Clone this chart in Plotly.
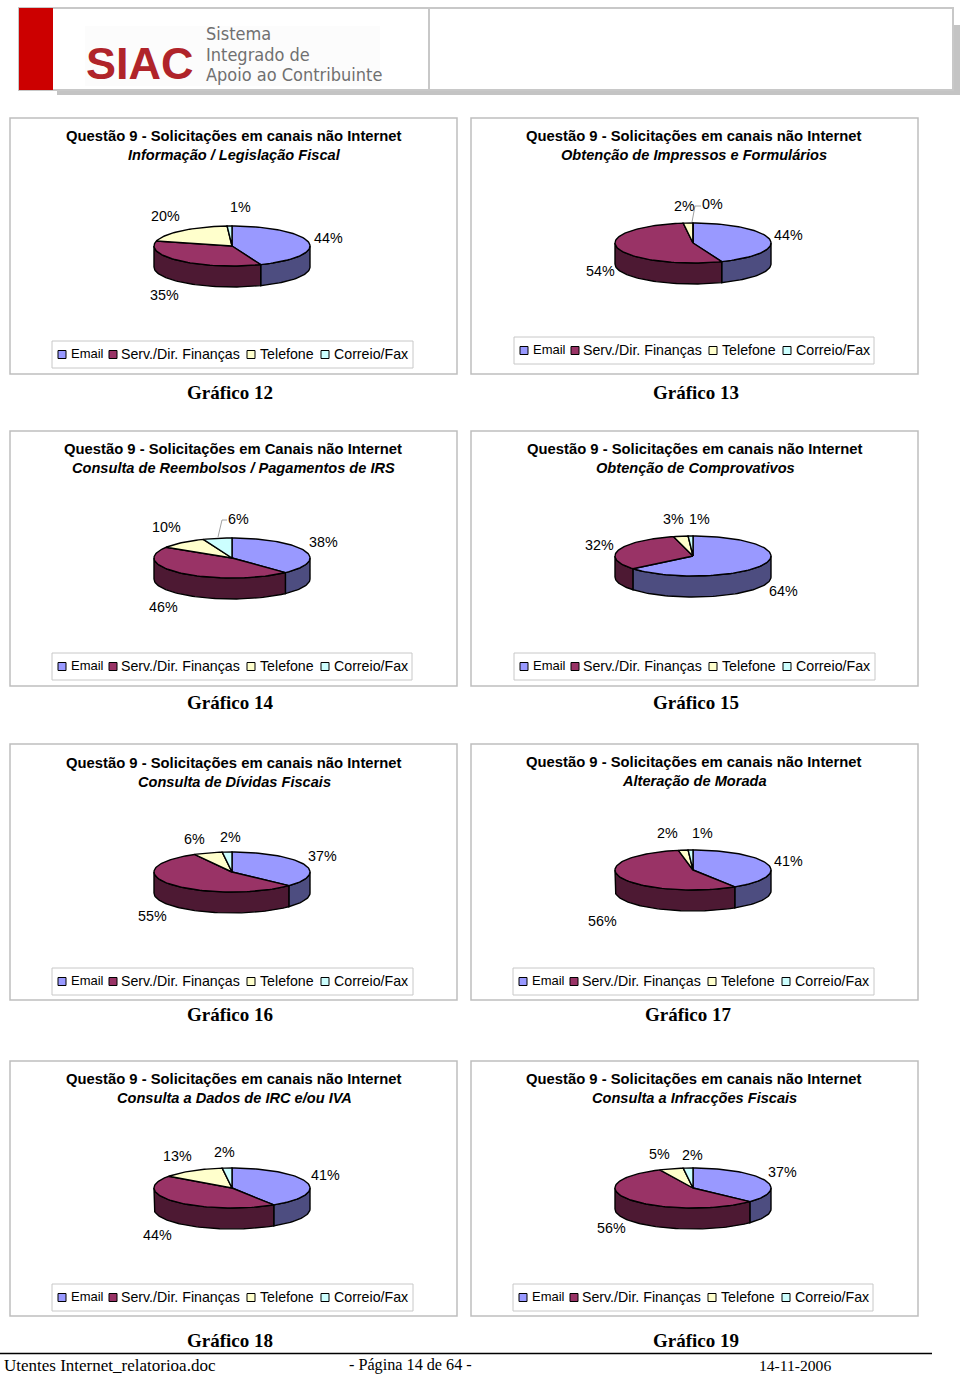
import math
import plotly.graph_objects as go

# ---------- data ----------
channels = ["Email", "Serv./Dir. Finanças", "Telefone", "Correio/Fax"]
g12 = [44, 35, 20, 1]
g13 = [44, 54, 2, 0]
g14 = [38, 46, 10, 6]
g15 = [64, 32, 3, 1]
g16 = [37, 55, 6, 2]
g17 = [41, 56, 2, 1]
g18 = [41, 44, 13, 2]
g19 = [37, 56, 5, 2]
series = [g12, g13, g14, g15, g16, g17, g18, g19]
numbers = [12, 13, 14, 15, 16, 17, 18, 19]
main_titles = ["Questão 9 - Solicitações em canais não Internet"] * 8
main_titles[2] = "Questão 9 - Solicitações em Canais não Internet"
sub_titles = ["Informação / Legislação Fiscal", "Obtenção de Impressos e Formulários",
              "Consulta de Reembolsos / Pagamentos de IRS", "Obtenção de Comprovativos",
              "Consulta de Dívidas Fiscais", "Alteração de Morada",
              "Consulta a Dados de IRC e/ou IVA", "Consulta a Infracções Fiscais"]

# ---------- layout / style (page pixels) ----------
top_fill = ["#9999FF", "#993366", "#FFFFCC", "#CCFFFF"]
side_fill = ["#4D4D80", "#4D1933", "#808066", "#668080"]
GREY = "#BEBEBE"
frames = [(10, 118, 457, 374), (471, 118, 918, 374), (10, 431, 457, 686), (471, 431, 918, 686),
          (10, 744, 457, 1000), (471, 744, 918, 1000), (10, 1061, 457, 1316), (471, 1061, 918, 1316)]
legend_boxes = [(52, 341, 413, 368), (514, 337, 874, 364), (52, 653, 412, 680), (514, 653, 875, 680),
                (52, 968, 413, 995), (513, 968, 874, 995), (52, 1284, 413, 1311), (513, 1284, 873, 1311)]
centres = [(232, 246), (693, 243), (232, 558), (693, 556), (232, 872), (693, 870), (232, 1188), (693, 1188)]
title_pos = [(234, 136, 155), (694, 136, 155), (233, 449, 468), (695, 449, 468),
             (234, 763, 782), (694, 762, 781), (234, 1079, 1098), (694, 1079, 1098)]
caption_pos = [(230, 392), (696, 392), (230, 702), (696, 702), (230, 1014), (688, 1014), (230, 1340), (696, 1340)]
label_pos = [
    [(328, 238), (164, 295), (165, 216), (240, 207)],
    [(788, 235), (600, 271), (684, 206), (712, 204)],
    [(323, 542), (163, 607), (166, 527), (238, 519)],
    [(783, 591), (599, 545), (673, 519), (699, 519)],
    [(322, 856), (152, 916), (194, 839), (230, 837)],
    [(788, 861), (602, 921), (667, 833), (702, 833)],
    [(325, 1175), (157, 1235), (177, 1156), (224, 1152)],
    [(782, 1172), (611, 1228), (659, 1154), (692, 1155)],
]
key_offsets = [10, 61, 199, 273]
text_offsets = [18, 68, 207, 281]
text_sizes = [13, 14.2, 14.2, 14.2]
RX, RY, DEPTH = 78, 20, 21
SANS = "Liberation Sans"
SERIF = "Liberation Serif"

fig = go.Figure()
shapes, notes = [], []


def note(x, y, text, size, family=SANS, color="#000000", anchor="center"):
    notes.append(dict(x=x, y=y, text=text, showarrow=False, xanchor=anchor, yanchor="middle",
                      font=dict(size=size, family=family, color=color), borderpad=0))


def rect(x0, y0, x1, y1, line=None, fill=None, width=1.5):
    shapes.append(dict(type="rect", x0=x0, y0=y0, x1=x1, y1=y1, layer="below",
                       line=dict(color=line or "rgba(0,0,0,0)", width=width if line else 0),
                       fillcolor=fill or "rgba(0,0,0,0)"))


def hline(x0, y0, x1, y1, color, width=1):
    shapes.append(dict(type="line", x0=x0, y0=y0, x1=x1, y1=y1, line=dict(color=color, width=width)))


def pt(cx, cy, a, dy=0):
    r = math.radians(a)
    return cx + RX * math.sin(r), cy - RY * math.cos(r) + dy


def arc(cx, cy, a0, a1, dy=0):
    n = max(2, int(abs(a1 - a0) / 2) + 2)
    return [pt(cx, cy, a0 + (a1 - a0) * i / (n - 1), dy) for i in range(n)]


def poly(points, fill):
    fig.add_trace(go.Scatter(x=[p[0] for p in points], y=[p[1] for p in points], mode="lines",
                             fill="toself", fillcolor=fill, line=dict(color="#000000", width=1.4),
                             hoverinfo="skip", showlegend=False))


# header
rect(57, 25, 960, 95, fill="#C4C4C4")
rect(19, 8, 953, 90, line="#C8C8C8", fill="#FFFFFF", width=2)
rect(19, 8, 53, 90, fill="#CC0000")
rect(85, 26, 380, 86, fill="#FCFCFC")
hline(429, 8, 429, 90, "#C8C8C8", 2)
note(140, 63, "<b>SIAC</b>", 45, SANS, "#B0242A")
note(205, 33, "Sistema", 18, "DejaVu Sans Condensed", "#707070", "left")
note(205, 54, "Integrado de", 18, "DejaVu Sans Condensed", "#707070", "left")
note(205, 74, "Apoio ao Contribuinte", 18, "DejaVu Sans Condensed", "#707070", "left")

# charts
for k, values in enumerate(series):
    x0, y0, x1, y1 = frames[k]
    rect(x0, y0, x1, y1, line=GREY)
    bx0, by0, bx1, by1 = legend_boxes[k]
    rect(bx0, by0, bx1, by1, line="#C8C8C8", width=1)
    ty = (by0 + by1) / 2 - 1
    for i, name in enumerate(channels):
        fig.add_trace(go.Scatter(x=[bx0 + key_offsets[i]], y=[ty + 1], mode="markers",
                                 marker=dict(symbol="square", size=8, color=top_fill[i],
                                             line=dict(color="#000000", width=1)),
                                 hoverinfo="skip", showlegend=False))
        note(bx0 + text_offsets[i], ty, name, text_sizes[i], SANS, "#000000", "left")
    tx, ty1, ty2 = title_pos[k]
    note(tx, ty1, "<b>" + main_titles[k] + "</b>", 14.8)
    note(tx, ty2, "<b><i>" + sub_titles[k] + "</i></b>", 14.6)
    note(caption_pos[k][0], caption_pos[k][1], "<b>Gráfico %d</b>" % numbers[k], 19, SERIF)

    cx, cy = centres[k]
    total = sum(values)
    # side walls (front half of the disc only), then the top slices
    a = 0
    spans = []
    for v in values:
        spans.append((a, a + 360 * v / total))
        a += 360 * v / total
    for i, (a0, a1) in enumerate(spans):
        s0, s1 = max(a0, 90), min(a1, 270)
        if s1 > s0:
            poly(arc(cx, cy, s0, s1) + arc(cx, cy, s1, s0, DEPTH) + [pt(cx, cy, s0)], side_fill[i])
    for i, (a0, a1) in enumerate(spans):
        poly([(cx, cy)] + arc(cx, cy, a0, a1) + [(cx, cy)], top_fill[i])
    for i, v in enumerate(values):
        lx, ly = label_pos[k][i]
        note(lx, ly, "%d%%" % v, 14.3, SANS, "#000000")

# leader lines
hline(692, 222, 695, 206, "#A0A0A0")
hline(695, 206, 701, 206, "#A0A0A0")
hline(218, 537, 222, 520, "#A0A0A0")
hline(222, 520, 227, 520, "#A0A0A0")

# footer
hline(0, 1353.5, 932, 1353.5, "#000000", 1.5)
note(3, 1365, "Utentes Internet_relatorioa.doc", 17, SERIF, "#000000", "left")
note(410, 1365, "- Página 14 de 64 -", 16.2, SERIF)
note(795, 1365, "14-11-2006", 15.6, SERIF)

fig.update_layout(
    width=960, height=1376, margin=dict(l=0, r=0, t=0, b=0), autosize=False,
    paper_bgcolor="#FFFFFF", plot_bgcolor="#FFFFFF", showlegend=False,
    xaxis=dict(range=[0, 960], visible=False, fixedrange=True),
    yaxis=dict(range=[1376, 0], visible=False, fixedrange=True),
    shapes=shapes, annotations=notes,
)
fig.write_html("out.html", config={"displayModeBar": False},
               post_script="document.body.style.margin='0';document.body.style.overflow='hidden';")
